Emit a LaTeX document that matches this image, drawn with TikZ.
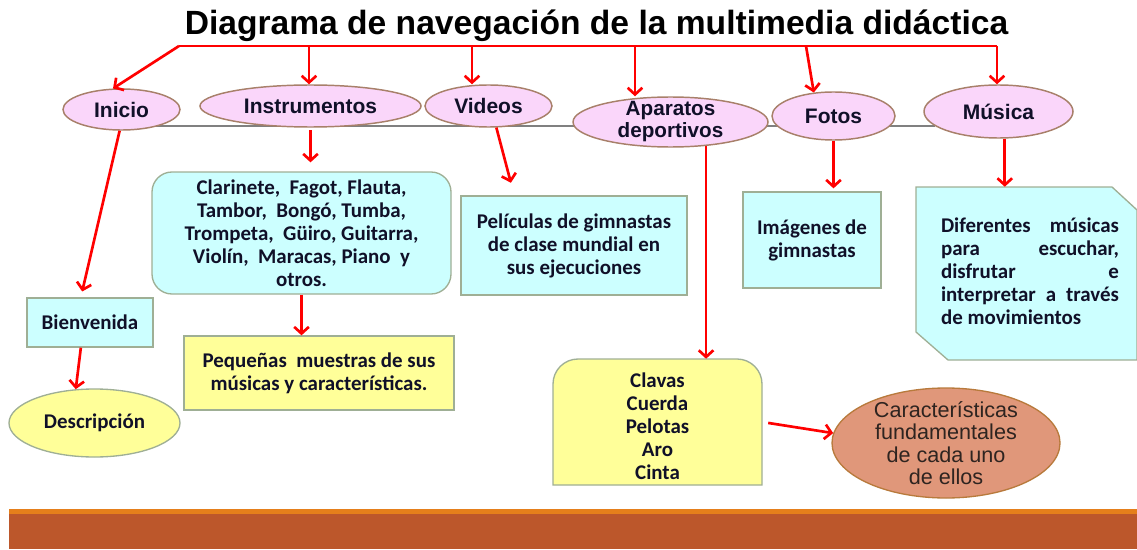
\documentclass[tikz,border=0pt]{standalone}
\usepackage{fontspec}
\setmainfont{Liberation Sans}
\newfontfamily\calib{Carlito}
\usetikzlibrary{arrows.meta,calc,shapes.geometric}
\definecolor{pinkf}{HTML}{FAD6FA}
\definecolor{pinkb}{HTML}{A8806A}
\definecolor{cyanf}{HTML}{CCFFFF}
\definecolor{boxb}{HTML}{9FAF95}
\definecolor{yelf}{HTML}{FFFF99}
\definecolor{salf}{HTML}{E0977A}
\definecolor{salb}{HTML}{B87A3C}
\definecolor{bandor}{HTML}{E57F1B}
\definecolor{bandbr}{HTML}{BC572B}
\definecolor{txt}{HTML}{101028}
\definecolor{cartxt}{HTML}{2E2420}
\begin{document}
\begin{tikzpicture}[x=0.75pt,y=-0.75pt,
 oval/.style={ellipse, draw=pinkb, fill=pinkf, line width=1.1pt, inner sep=0pt,
   font=\bfseries\fontsize{15.75}{16.5}\selectfont, text=txt, align=center},
 ovtext/.style={inner sep=0pt, font=\bfseries\fontsize{15.5}{16.5}\selectfont, text=txt, align=center},
 cbox/.style={rectangle, draw=boxb, line width=1pt, inner sep=0pt,
   font=\calib\bfseries\fontsize{15.7}{17.25}\selectfont, align=center, text=txt},
 ctext/.style={inner sep=0pt, font=\calib\bfseries\fontsize{15.7}{17.25}\selectfont, text=txt},
 ra/.style={draw=red, line width=2pt, -{Straight Barb[length=5pt,width=11pt]}},
 ]
\useasboundingbox (0,0) rectangle (1137,549);
% bottom band
\fill[bandor] (9,509) rectangle (1137,514);
\fill[bandbr] (9,514) rectangle (1137,549);
% title
\node[anchor=base, inner sep=0pt, font=\bfseries\fontsize{25.2}{26}\selectfont] (title) at (596.5,35) {Diagrama de navegación de la multimedia didáctica};
% gray line
\coordinate (g1) at (152,126);
\coordinate (g2) at (935,126);
\draw[gray, line width=1.2pt] (g1) -- (g2);
% top ovals
\node[oval, minimum width=87.75pt, minimum height=30.75pt] (ini) at (121.5,109.5) {Inicio};
\node[oval, minimum width=165.75pt, minimum height=31.5pt] (inst) at (310.5,106) {Instrumentos};
\node[oval, minimum width=95.25pt, minimum height=31.5pt] (vid) at (488.5,106) {Videos};
\node[oval, minimum width=146.25pt, minimum height=37.5pt] (apa) at (670.5,122) {};
\node[ovtext] (apaT) at (670.5,121.5) {Aparatos\\deportivos};
\node[oval, minimum width=92.25pt, minimum height=36pt] (fot) at (833.5,116) {Fotos};
\node[oval, minimum width=111.75pt, minimum height=39.75pt] (mus) at (998.5,111.5) {Música};
% boxes
\node[cbox, fill=cyanf, minimum width=94.5pt, minimum height=36.75pt] (bien) at (90,322.5) {Bienvenida};
\node[ellipse, draw=boxb, fill=yelf, line width=1pt, inner sep=0pt, minimum width=128.25pt, minimum height=51pt,
  font=\calib\bfseries\fontsize{15.7}{17.25}\selectfont, text=txt] (desc) at (94.5,423) {Descripción};
\node[cbox, fill=cyanf, rounded corners=15pt, minimum width=224.25pt, minimum height=91.5pt] (list) at (301.5,233)
  {Clarinete, \ Fagot, Flauta,\\Tambor, \ Bongó, Tumba,\\Trompeta, \ Güiro, Guitarra,\\Violín, \ Maracas, Piano \ y\\otros.};
\node[cbox, fill=yelf, minimum width=202.5pt, minimum height=55.5pt] (peq) at (319,373)
  {Pequeñas \ muestras de sus\\músicas y características.};
\node[cbox, fill=cyanf, minimum width=169.5pt, minimum height=74.25pt] (pel) at (574,245.5)
  {Películas de gimnastas\\de clase mundial en\\sus ejecuciones};
\node[cbox, fill=cyanf, minimum width=103.5pt, minimum height=72pt] (img) at (812,240)
  {Imágenes de\\gimnastas};
% Clavas box (rounded top corners)
\draw[draw=boxb, fill=yelf, line width=1pt] (553,485) -- (553,384) .. controls (553,370.2) and (564.2,359) .. (578,359)
  -- (737,359) .. controls (750.8,359) and (762,370.2) .. (762,384) -- (762,485) -- cycle;
\node[inner sep=0pt, minimum width=156.75pt, minimum height=94.5pt] (clav) at (657.5,422) {};
\node[ctext, align=center] (clavT) at (657.5,426)
  {Clavas\\Cuerda\\Pelotas\\Aro\\Cinta};
% Diferentes box (snipped corners)
\draw[draw=boxb, fill=cyanf, line width=1pt] (916,187) -- (1112,187) -- (1137,210) -- (1137,360) -- (948,360) -- (916,332) -- cycle;
\node[inner sep=0pt, minimum width=165.75pt, minimum height=129.75pt] (dif) at (1026.5,273.5) {};
\node[ctext, align=left] (difT) at (1030,271.5)
  {\makebox[133.5pt][s]{Diferentes\hfill músicas}\\
   \makebox[133.5pt][s]{para\hfill escuchar,}\\
   \makebox[133.5pt][s]{disfrutar\hfill e}\\
   \makebox[133.5pt][s]{interpretar\hfill a\hfill través}\\
   \makebox[133.5pt][l]{de movimientos}};
% Caracteristicas
\node[ellipse, draw=salb, fill=salf, line width=1pt, inner sep=0pt, minimum width=171pt, minimum height=82.5pt] (car) at (946,443) {};
\node[inner sep=0pt, align=center, text=cartxt, font=\fontsize{16.2}{16.9}\selectfont] (carT) at (946,443)
  {Características\\fundamentales\\de cada uno\\de ellos};
% red bracket
\coordinate (L) at (179,46);
\coordinate (R) at (997,46);
\coordinate (b1) at (309,46);
\coordinate (b2) at (472,46);
\coordinate (b3) at (635,46);
\coordinate (b4) at (806,46);
\draw[red, line width=2pt] (L) -- (R);
\draw[ra] (L) -- (ini.112);
\draw[ra] (b1) -- (b1 |- inst.north);
\draw[ra] (b2) -- (b2 |- vid.north);
\draw[ra] (b3) -- (b3 |- apa.north);
\draw[ra] (b4) -- (fot.130);
\draw[ra] (R) -- (R |- mus.north);
% lower connectors
\draw[ra, shorten >=4.5pt] (ini.265) -- (bien.110);
\draw[ra] (bien.250) -- (desc.119);
\draw[ra, shorten <=2pt, shorten >=6.75pt] (inst.south) -- (inst.south |- list.north);
\draw[ra] (list.south) -- (list.south |- peq.north);
\draw[ra, shorten >=9.75pt] (vid.290) -- (pel.140);
\draw[ra] (apa.326) -- (apa.326 |- clav.north);
\draw[ra, shorten >=2.25pt] (fot.south) -- (fot.south |- img.north);
\draw[ra] (mus.283) -- (mus.283 |- dif.north);
\draw[ra, shorten <=4.5pt] (clav.east) -- (car.175);
\end{tikzpicture}
\end{document}
